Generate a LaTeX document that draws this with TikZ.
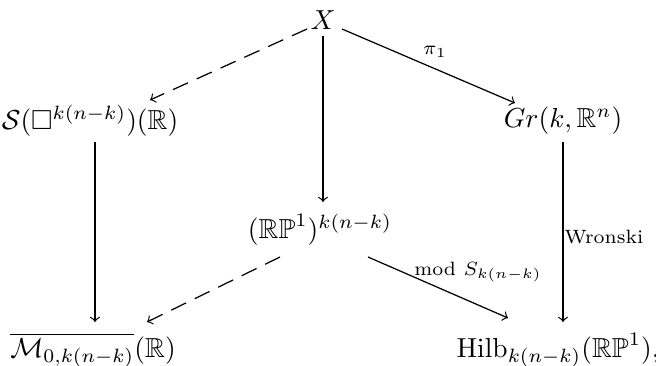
\documentclass[tikz,border=0pt]{standalone}
\usepackage{amsmath,amssymb}
\begin{document}
\begin{tikzpicture}[x=0.3636pt,y=-0.3636pt,
  obj/.style={inner sep=0pt,anchor=center},
  arr/.style={->,line width=0.45pt},
  darr/.style={->,line width=0.45pt,dash pattern=on 6pt off 3.5pt},
  lab/.style={font=\scriptsize,inner sep=1pt}]
\useasboundingbox (0,0) rectangle (656,365);
\node[obj] (X) at (323,20) {$X$};
\node[obj] (S) at (90,121) {$\mathcal{S}(\square^{k(n-k)})(\mathbb{R})$};
\node[obj] (G) at (563,121) {$Gr(k,\mathbb{R}^n)$};
\node[obj] (P) at (320,230) {$(\mathbb{RP}^1)^{k(n-k)}$};
\node[obj] (M) at (93,350) {$\overline{\mathcal{M}_{0,k(n-k)}}(\mathbb{R})$};
\node[obj] (H) at (558,350) {$\mathrm{Hilb}_{k(n-k)}(\mathbb{RP}^1)$,};
\draw[darr] ([shift={(-16,9)}]X.center) -- ([shift={(60,-21)}]S.center);
\draw[arr] ([shift={(19,9)}]X.center) -- ([shift={(-48,-18)}]G.center);
\draw[arr] ([shift={(0,16)}]X.center) -- ([shift={(3,-28)}]P.center);
\draw[arr] ([shift={(5,21)}]S.center) -- ([shift={(2,-28)}]M.center);
\draw[arr] ([shift={(0,21)}]G.center) -- ([shift={(5,-28)}]H.center);
\draw[darr] ([shift={(-40,27)}]P.center) -- ([shift={(54,-28)}]M.center);
\draw[arr] ([shift={(48,27)}]P.center) -- ([shift={(-50,-32)}]H.center);
\node[lab] (l1) at (435,52) {$\pi_1$};
\node[lab] (l2) at (604,237) {Wronski};
\node[lab] (l3) at (478,272) {$\mathrm{mod}\ S_{k(n-k)}$};
\end{tikzpicture}
\end{document}
